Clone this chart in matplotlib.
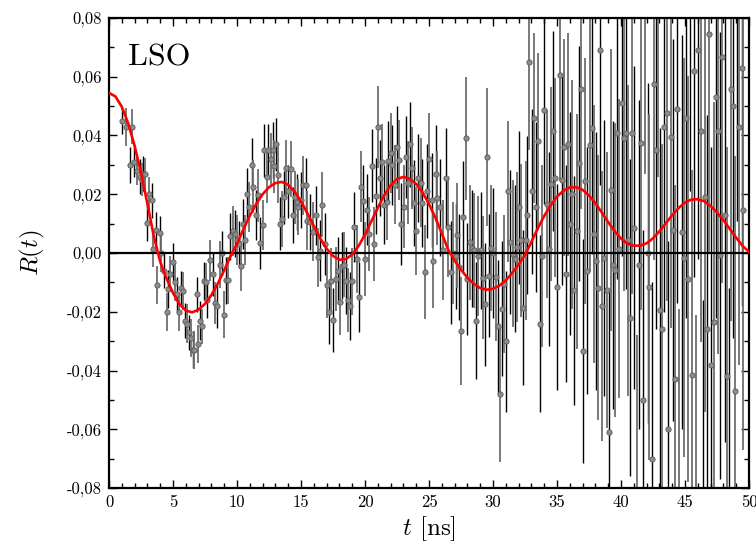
import numpy as np
import matplotlib
matplotlib.use('Agg')
import matplotlib.pyplot as plt
from matplotlib.ticker import MultipleLocator, FuncFormatter

plt.rcParams['font.family'] = 'cmr10'
plt.rcParams['mathtext.fontset'] = 'cm'
plt.rcParams['axes.unicode_minus'] = False
plt.rcParams['axes.formatter.use_mathtext'] = True

t_ns = [
    1.04, 1.30, 1.64, 1.77, 1.98, 2.16, 2.42, 2.55,
    2.68, 2.80, 2.94, 3.12, 3.33, 3.46, 3.67, 3.77,
    3.98, 4.10, 4.30, 4.50, 4.64, 4.77, 4.97, 5.16,
    5.34, 5.45, 5.60, 5.76, 5.92, 6.10, 6.26, 6.40,
    6.54, 6.67, 6.85, 6.98, 7.11, 7.24, 7.40, 7.55,
    7.68,
    7.89, 8.15, 8.28, 8.46, 8.67, 8.82, 8.98, 9.14,
    9.32, 9.45, 9.66, 9.84, 9.97, 10.13, 10.29, 10.44,
    10.62, 10.76, 10.96, 11.15, 11.28, 11.48, 11.66, 11.80,
    12.00, 12.11, 12.32, 12.45, 12.65, 12.78, 12.92, 13.05,
    13.18, 13.36, 13.49, 13.67, 13.83, 14.01, 14.19, 14.35,
    14.50, 14.66, 14.79, 14.97, 15.18, 15.36, 15.49, 15.70,
    15.96, 16.17, 16.33,
    16.48, 16.67, 16.87, 17.00, 17.19, 17.32, 17.53, 17.71,
    17.86, 18.05, 18.18, 18.36, 18.49, 18.65, 18.83, 19.01,
    19.17, 19.35, 19.53, 19.70, 19.87, 20.00, 20.18, 20.31,
    20.52, 20.68, 20.83, 20.99, 21.17, 21.35, 21.48, 21.69,
    21.82, 22.00, 22.13, 22.34, 22.47, 22.66, 22.81, 23.02,
    23.18, 23.35, 23.52, 23.67, 23.83, 24.01, 24.17, 24.35,
    24.48, 24.68, 24.87, 25.00, 25.20, 25.34, 25.52, 25.65,
    25.86, 26.10, 26.33, 26.50, 26.70, 26.88, 27.08, 27.22,
    27.37, 27.50, 27.68, 27.86, 28.00, 28.20, 28.39, 28.52,
    28.67, 28.85, 29.04, 29.20, 29.38, 29.50, 29.69, 29.85,
    30.00, 30.20, 30.37, 30.55, 30.70, 30.86, 31.00, 31.20,
    31.35, 31.53, 31.72, 31.85, 32.03, 32.19, 32.37, 32.55,
    32.68, 32.84,
    33.02, 33.20, 33.36, 33.54, 33.70, 33.85, 34.01, 34.20,
    34.38, 34.53, 34.71, 34.87, 35.03, 35.21, 35.36, 35.55,
    35.70, 35.89, 36.05, 36.20, 36.35, 36.54, 36.72, 36.88,
    37.06, 37.21, 37.37, 37.55, 37.71, 37.89, 38.05, 38.20,
    38.39, 38.54, 38.70, 38.88, 39.04, 39.22, 39.38, 39.53,
    39.71, 39.87, 40.05, 40.21, 40.36, 40.55, 40.70, 40.89,
    41.04, 41.22, 41.40, 41.56,
    41.74, 41.90, 42.08, 42.21, 42.40, 42.55, 42.71, 42.86,
    43.05, 43.23, 43.39, 43.57, 43.70, 43.91, 44.04, 44.22,
    44.40, 44.55, 44.74, 44.95, 45.08, 45.21, 45.39, 45.57,
    45.73, 45.89, 46.04, 46.22, 46.38, 46.56, 46.72, 46.90,
    47.05, 47.24, 47.39, 47.55, 47.76, 47.92, 48.12, 48.28,
    48.44, 48.57, 48.73, 48.91, 49.06, 49.25, 49.45, 49.55,
]

r_t = [
    0.045, 0.043, 0.030, 0.043, 0.031, 0.028, 0.026, 0.025,
    0.027, 0.027, 0.0102, 0.020, 0.018, 0.0014, 0.008, -0.011,
    0.0067, 0.000, -0.006, -0.020, -0.0123, -0.007, -0.003, -0.010,
    -0.014, -0.020, -0.012, -0.013, -0.023, -0.024, -0.027, -0.029,
    -0.033, -0.033, -0.014, -0.031, -0.023, -0.025, -0.0095, -0.010,
    -0.016,
    -0.0025, -0.007, -0.017, -0.018, -0.004, 0.000, -0.021, -0.0093,
    -0.0093, 0.0057, 0.0075, 0.0066, 0.0043, 0.003, -0.0044, 0.010,
    0.0043, 0.020, 0.0157, 0.030, 0.0225, 0.0128, 0.0197, 0.0034,
    0.0094, 0.035, 0.026, 0.035, 0.032, 0.035, 0.0295, 0.037,
    0.0265, 0.010, 0.0117, 0.019, 0.029, 0.021, 0.0287, 0.013,
    0.019, 0.0174, 0.0157, 0.018, 0.023, 0.023, 0.011, 0.0106,
    0.0072, 0.0128, -0.0015,
    0.0008, 0.0165, 0.003, -0.011, -0.020, -0.0094, -0.0228, -0.0089,
    -0.006, -0.0168, -0.0043, -0.004, -0.0094, -0.016, -0.018, -0.0097,
    0.0088, -0.002, -0.015, 0.0226, 0.0178, -0.002, 0.0148, 0.0065,
    0.0297, 0.003, 0.0195, 0.043, 0.0256, 0.031, 0.0165, 0.0173,
    0.0313, 0.034, 0.030, 0.0233, 0.036, 0.0317, 0.010, 0.0158,
    0.0326, 0.024, 0.037, 0.029, 0.017, 0.0076, 0.0254, 0.024,
    0.017, -0.0065, 0.021, 0.032, 0.018, -0.0027, 0.027, 0.0187,
    0.0155, 0.001, 0.0257, 0.009, -0.0066, 0.000, -0.001, 0.006,
    -0.0048, -0.0266, 0.0123, 0.039, -0.0088, 0.0036, 0.0016, 0.0009,
    -0.023, -0.0011, 0.0009, -0.0084, -0.0175, 0.0327, -0.0077, 0.0016,
    0.000, -0.008, -0.025, -0.048, -0.019, -0.0107, -0.030, 0.021,
    0.0038, -0.0002, -0.002, 0.002, 0.0155, 0.0043, -0.0186, 0.0043,
    0.013, 0.065,
    0.021, 0.046, 0.0157, 0.038, -0.024, -0.001, 0.0486, 0.0168,
    0.0015, 0.0234, 0.0416, 0.0257, -0.0116, 0.0606, 0.025, 0.036,
    -0.007, 0.037, 0.010, 0.020, -0.0127, 0.0074, 0.0305, 0.056,
    -0.0334, 0.0245, -0.006, 0.0367, 0.0427, 0.0064, -0.0027, -0.0118,
    0.069, -0.018, -0.0016, -0.0127, -0.061, 0.0216, -0.0042, -0.0057,
    0.041, 0.0015, 0.051, 0.039, 0.0407, 0.0043, -0.022, 0.041,
    0.0086, -0.084, -0.004, 0.0375,
    -0.050, 0.085, 0.000, -0.0116, -0.070, 0.0575, 0.035, 0.088,
    -0.0195, -0.026, 0.043, 0.0477, -0.060, 0.0395, 0.0077, -0.043,
    0.049, -0.086, 0.0072, -0.0016, 0.046, -0.0088, 0.090, -0.0417,
    0.062, -0.092, 0.069, 0.0416, -0.088, 0.019, -0.026, 0.0745,
    -0.038, -0.0235, 0.053, 0.0416, -0.0008, 0.0668, 0.0128, -0.042,
    -0.090, 0.0557, 0.050, -0.047, 0.091, 0.043, 0.063, 0.0148,
]

r_err = [
    0.0045, 0.0065, 0.006, 0.006, 0.005, 0.005, 0.006, 0.0055,
    0.006, 0.0055, 0.006, 0.006, 0.006, 0.006, 0.006, 0.0065,
    0.006, 0.0065, 0.006, 0.0065, 0.0065, 0.006, 0.0065, 0.0065,
    0.006, 0.0065, 0.006, 0.0065, 0.006, 0.0065, 0.006, 0.0065,
    0.006, 0.0065, 0.006, 0.0065, 0.0065, 0.006, 0.0065, 0.0065,
    0.006,
    0.007, 0.0075, 0.007, 0.0075, 0.008, 0.0075, 0.008, 0.008,
    0.008, 0.008, 0.0085, 0.008, 0.0085, 0.008, 0.0085, 0.0085,
    0.0085, 0.009, 0.0085, 0.009, 0.009, 0.0085, 0.009, 0.009,
    0.0085, 0.009, 0.009, 0.009, 0.009, 0.0095, 0.009, 0.009,
    0.0095, 0.009, 0.0095, 0.009, 0.0095, 0.009, 0.0095, 0.0095,
    0.009, 0.0095, 0.0095, 0.0095, 0.010, 0.0095, 0.010, 0.0095,
    0.010, 0.010, 0.010,
    0.0105, 0.011, 0.0105, 0.011, 0.011, 0.011, 0.011, 0.011,
    0.0115, 0.011, 0.0115, 0.011, 0.0115, 0.011, 0.0115, 0.0115,
    0.012, 0.0115, 0.012, 0.012, 0.012, 0.0125, 0.012, 0.0125,
    0.0125, 0.0125, 0.013, 0.014, 0.013, 0.013, 0.0135, 0.013,
    0.0135, 0.0135, 0.0135, 0.0135, 0.014, 0.0135, 0.014, 0.014,
    0.014, 0.014, 0.0145, 0.014, 0.0145, 0.015, 0.015, 0.015,
    0.015, 0.016, 0.016, 0.0155, 0.016, 0.016, 0.0165, 0.016,
    0.0165, 0.017, 0.017, 0.017, 0.0175, 0.0175, 0.018, 0.018,
    0.018, 0.0185, 0.019, 0.021, 0.019, 0.0195, 0.020, 0.0195,
    0.020, 0.0205, 0.020, 0.021, 0.021, 0.0235, 0.021, 0.0215,
    0.022, 0.022, 0.0225, 0.023, 0.023, 0.0235, 0.024, 0.024,
    0.0245, 0.025, 0.025, 0.0255, 0.026, 0.026, 0.0265, 0.027,
    0.027, 0.030,
    0.028, 0.029, 0.029, 0.030, 0.030, 0.031, 0.032, 0.032,
    0.033, 0.033, 0.034, 0.034, 0.035, 0.036, 0.036, 0.037,
    0.037, 0.038, 0.038, 0.039, 0.039, 0.040, 0.040, 0.041,
    0.038, 0.042, 0.042, 0.043, 0.043, 0.044, 0.044, 0.045,
    0.046, 0.046, 0.047, 0.047, 0.048, 0.048, 0.049, 0.050,
    0.050, 0.051, 0.052, 0.052, 0.053, 0.053, 0.054, 0.055,
    0.055, 0.056, 0.056, 0.057,
    0.058, 0.058, 0.058, 0.059, 0.060, 0.060, 0.061, 0.062,
    0.062, 0.063, 0.063, 0.064, 0.064, 0.065, 0.065, 0.066,
    0.066, 0.067, 0.067, 0.068, 0.068, 0.069, 0.069, 0.070,
    0.070, 0.071, 0.071, 0.072, 0.072, 0.073, 0.073, 0.074,
    0.074, 0.075, 0.075, 0.076, 0.076, 0.077, 0.077, 0.078,
    0.078, 0.079, 0.079, 0.080, 0.080, 0.081, 0.081, 0.082,
]

# fit curve, read every 0.5 ns from 0 to 50
fit_t = np.linspace(0, 50, 101)
fit_r = [
    0.0545, 0.0533, 0.0498, 0.0441, 0.0365, 0.0273, 0.0168, 0.0057,
    -0.0030, -0.0087, -0.0136, -0.0174, -0.0196, -0.0202, -0.0193, -0.0173,
    -0.0143, -0.0104, -0.0059, -0.0010, 0.0031, 0.0081, 0.0127, 0.0167,
    0.0200, 0.0224, 0.0238, 0.0242, 0.0232, 0.0209, 0.0176, 0.0135,
    0.0092, 0.0050, 0.0015, -0.0010, -0.0023, -0.0021, -0.0005, 0.0024,
    0.0063, 0.0108, 0.0154, 0.0196, 0.0230, 0.0252, 0.0259, 0.0253,
    0.0235, 0.0206, 0.0167, 0.0120, 0.0067, 0.0011, -0.0026, -0.0057,
    -0.0084, -0.0105, -0.0119, -0.0125, -0.0122, -0.0111, -0.0093, -0.0068,
    -0.0039, -0.0007, 0.0038, 0.0084, 0.0126, 0.0162, 0.0192, 0.0212,
    0.0223, 0.0224, 0.0215, 0.0196, 0.0169, 0.0138, 0.0105, 0.0074,
    0.0049, 0.0032, 0.0025, 0.0025, 0.0033, 0.0050, 0.0074, 0.0101,
    0.0129, 0.0153, 0.0172, 0.0182, 0.0183, 0.0176, 0.0160, 0.0138,
    0.0112, 0.0082, 0.0052, 0.0024, 0.0004,
]

t = np.array(t_ns)
r = np.array(r_t)
e = np.array(r_err)
assert len(t) == len(r) == len(e)

fig = plt.figure(figsize=(7.56, 5.49), dpi=100)
ax = fig.add_axes([109 / 756, 61 / 549, 640 / 756, 470 / 549])

# error bars alternate black / grey
ax.errorbar(t[::2], r[::2], yerr=e[::2], fmt='none', ecolor='black',
            elinewidth=1.0, zorder=2)
ax.errorbar(t[1::2], r[1::2], yerr=e[1::2], fmt='none', ecolor='#6e6e6e',
            elinewidth=1.3, zorder=2)
ax.plot(t, r, 'o', ms=3.8, mfc='#8c8c8c', mec='#5a5a5a', mew=0.6, zorder=3)

ax.axhline(0, color='black', lw=1.6, zorder=4)
ax.plot(fit_t, fit_r, color='red', lw=1.9, zorder=5)

ax.set_xlim(0, 50)
ax.set_ylim(-0.08, 0.08)
ax.xaxis.set_major_locator(MultipleLocator(5))
ax.xaxis.set_minor_locator(MultipleLocator(1))
ax.yaxis.set_major_locator(MultipleLocator(0.02))
ax.yaxis.set_minor_locator(MultipleLocator(0.01))
ax.xaxis.set_major_formatter(FuncFormatter(lambda v, p: f'{v:.0f}'))
ax.yaxis.set_major_formatter(
    FuncFormatter(lambda v, p: f'{v:.2f}'.replace('.', ',').replace('-0,00', '0,00')))

ax.tick_params(which='both', direction='in', top=True, right=True,
               labelsize=12, width=1)
ax.tick_params(which='major', length=6, pad=5)
ax.tick_params(which='minor', length=3.5)
for s in ax.spines.values():
    s.set_linewidth(1.6)

ax.set_xlabel(r'$t$ [ns]', fontsize=18, labelpad=3)
ax.set_ylabel(r'$R(t)$', fontsize=18, labelpad=14)

ax.text(0.03, 0.9, 'LSO', transform=ax.transAxes, fontsize=23, va='baseline')

fig.savefig('out.png', dpi=100)
